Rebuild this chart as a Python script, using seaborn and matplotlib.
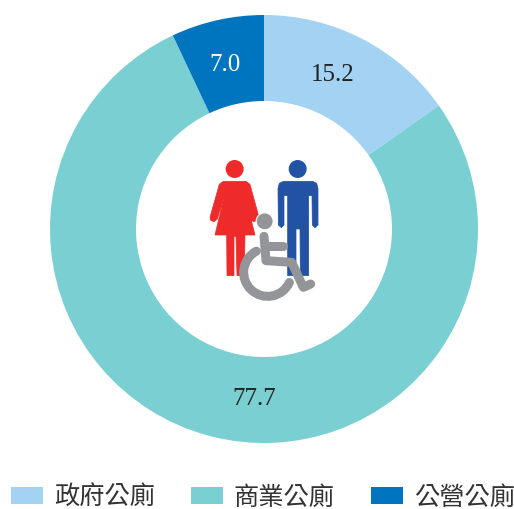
import matplotlib
matplotlib.use("Agg")
import matplotlib.pyplot as plt
import seaborn as sns
from matplotlib.patches import Circle, Polygon, Arc

sns.set_theme(style="white")
plt.rcParams['font.family'] = ['Noto Sans CJK TC', 'DejaVu Sans']

categories = ["政府公廁", "商業公廁", "公營公廁"]
values = [15.2, 77.7, 7.0]
value_labels = ["15.2", "77.7", "7.0"]
palette = sns.color_palette(["#A3D2F2", "#7ACFD3", "#0075BF"])
label_px = [(333, 75), (254, 399), (225, 65)]

W, H = 514, 510
fig = plt.figure(figsize=(W / 100, H / 100), dpi=100)
ax = fig.add_axes([0, 0, 1, 1])

wedges, _ = ax.pie(values, colors=palette, startangle=90, counterclock=False,
                   center=(264, H - 230), radius=214, frame=True,
                   wedgeprops=dict(width=86, edgecolor="none"))
ax.set_xlim(0, W)
ax.set_ylim(0, H)
ax.set_aspect("equal")
ax.axis("off")

for (x, y), s in zip(label_px, value_labels):
    ax.text(x, H - y, s, ha="center", va="center", fontsize=18,
            family="Liberation Serif", color="#222222" if s != "7.0" else "white")

# restroom icon, given in pixels of the crop (3x, origin 190,150)
def P(x, y):
    return (190 + x / 3, H - (150 + y / 3))

RED, BLUE, GRAY = "#EE2A2A", "#2252A4", "#939598"

def poly(pts, c, z=3):
    ax.add_patch(Polygon([P(*p) for p in pts], closed=True, fc=c, ec=c, lw=0.5,
                         joinstyle="round", zorder=z))

# woman
ax.add_patch(Circle(P(134, 60), 9, fc=RED, ec="none", zorder=3))
poly([(100, 97), (168, 97), (180, 106), (207, 205), (203, 215), (190, 218), (183, 212),
      (165, 140), (195, 258), (165, 258), (163, 380), (141, 380), (138, 262), (132, 262),
      (132, 380), (111, 380), (110, 258), (75, 258), (103, 140), (82, 210), (72, 218),
      (62, 214), (60, 205), (88, 106)], RED)

# man
ax.add_patch(Circle(P(323, 60), 9, fc=BLUE, ec="none", zorder=3))
poly([(280, 97), (368, 97), (380, 103), (384, 118), (384, 228), (375, 236), (367, 228),
      (366, 140), (356, 140), (356, 380), (331, 380), (330, 240), (318, 240), (318, 380),
      (293, 380), (293, 140), (282, 140), (282, 228), (274, 236), (265, 228), (264, 118),
      (268, 103)], BLUE)

# wheelchair
ax.add_patch(Circle(P(224, 217), 8.5, fc=GRAY, ec="white", lw=0.8, zorder=4))
lw = 9 * 0.72
path = [P(222, 262), P(228, 335), P(305, 340), P(340, 415), P(362, 405)]
ax.plot(*zip(*path), color=GRAY, lw=lw, solid_capstyle="round",
        solid_joinstyle="round", zorder=4)
ax.plot(*zip(P(225, 292), P(278, 292)), color=GRAY, lw=lw, solid_capstyle="round", zorder=4)
ax.add_patch(Arc(P(233, 370), 48, 48, theta1=118, theta2=335,
                 color=GRAY, lw=lw, zorder=4, capstyle="round"))

leg = ax.legend(wedges, categories, ncol=3, loc="lower left",
                bbox_to_anchor=(11 / W, -1 / H), bbox_transform=ax.transAxes,
                frameon=False, fontsize=18.2, borderpad=0, borderaxespad=0,
                handlelength=1.265, handleheight=0.67, handletextpad=0.43,
                columnspacing=1.43, labelcolor="#333333")

fig.savefig("out.png", dpi=100, facecolor="white")
